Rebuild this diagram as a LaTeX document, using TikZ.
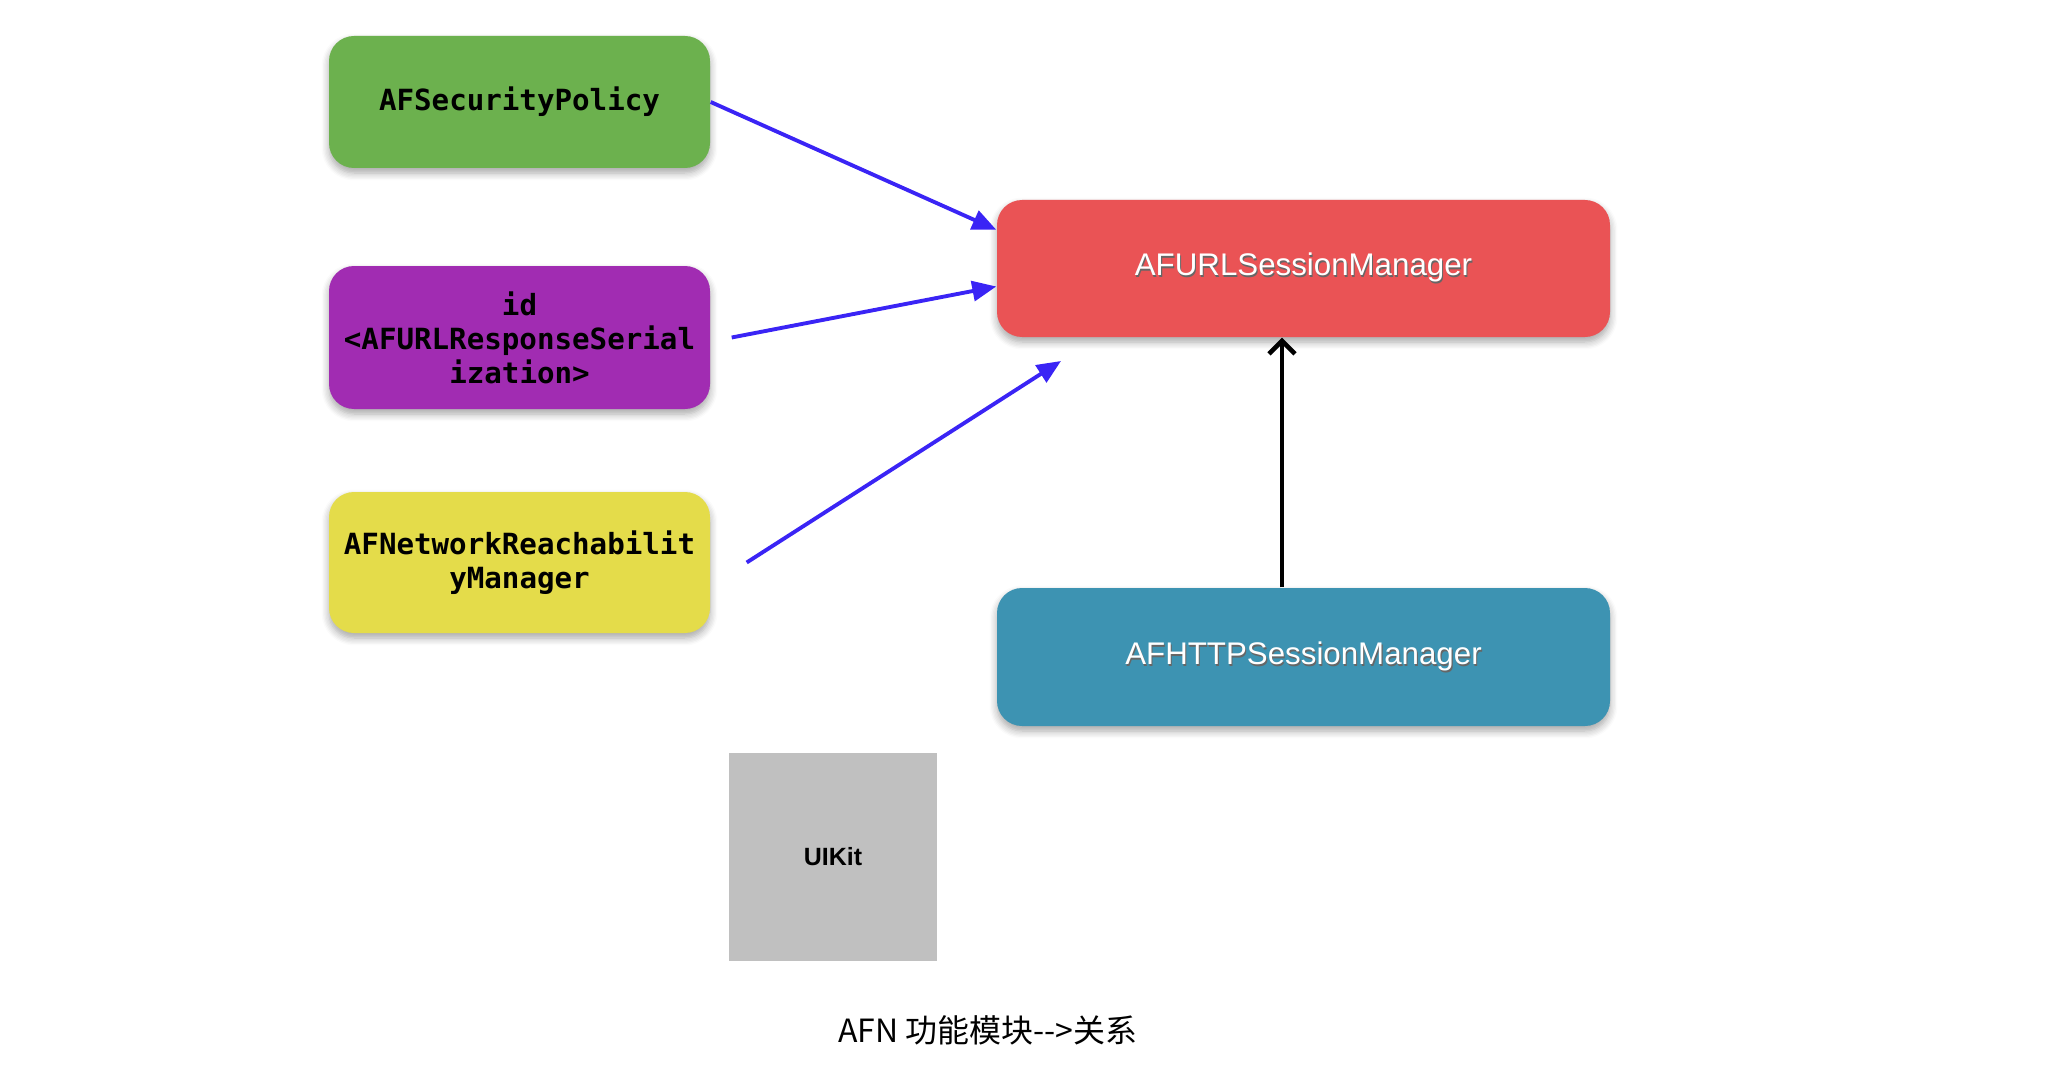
\documentclass[tikz,border=0pt]{standalone}
\usepackage{fontspec}
\usepackage{tikz}
\usetikzlibrary{arrows.meta}
\usetikzlibrary{shadows.blur}
\usetikzlibrary{calc}
\setmainfont{Liberation Sans}
\newfontfamily\codefont{DejaVu Sans Mono}
\newfontfamily\cjkfont{Noto Sans CJK SC}
\definecolor{policygreen}{RGB}{108,177,78}
\definecolor{serialpurple}{RGB}{161,44,178}
\definecolor{reachyellow}{RGB}{228,220,74}
\definecolor{sessionred}{RGB}{234,83,85}
\definecolor{httpblue}{RGB}{61,147,178}
\definecolor{kitgray}{RGB}{192,192,192}
\definecolor{linkblue}{RGB}{58,36,245}
\newcommand\shadowed[1]{\rlap{\hspace{0.3pt}\raisebox{-0.6pt}{\textcolor{black!60}{#1}}}#1}
\tikzset{module/.style={rounded corners=0.25cm,minimum width=3.81cm,
                        text badly centered,align=center,inner sep=0pt,
                        blur shadow={shadow xshift=0pt,shadow yshift=-0.05cm,
                                     shadow blur steps=6,shadow opacity=35},
                        font=\codefont\bfseries\fontsize{8.3}{9.7}\selectfont}}
\tikzset{manager/.style={module,minimum width=6.13cm,minimum height=1.37cm,
                         text=white,font=\fontsize{8.9}{10}\selectfont}}

\begin{document}
\begin{tikzpicture}
    \tikzstyle{uses}=[-{Triangle[length=0.24cm,width=0.2cm]},draw=linkblue,line width=1.1pt]
    \tikzstyle{inherits}=[-{Straight Barb[length=0.13cm,width=0.26cm]},draw=black,line width=1.3pt]
    \useasboundingbox (0,0) rectangle (20.64,-10.74);

    % modules
    \node[module,fill=policygreen,minimum height=1.32cm] (policy) at (5.195,-1.02) {AFSecurityPolicy};
    \node[module,fill=serialpurple,minimum height=1.43cm] (serial) at (5.195,-3.375)
        {id\\<AFURLResponseSerial\\ization>};
    \node[module,fill=reachyellow,minimum height=1.41cm] (reach) at (5.195,-5.625)
        {AFNetworkReachabilit\\yManager};

    \node[manager,fill=sessionred] (url) at (13.035,-2.685) {\shadowed{AFURLSessionManager}};
    \node[manager,fill=httpblue,minimum height=1.38cm] (http) at (13.035,-6.57) {\shadowed{AFHTTPSessionManager}};

    \node[fill=kitgray,minimum size=2.08cm,inner sep=0pt,font=\bfseries\fontsize{7.1}{8}\selectfont]
        (uikit) at (8.33,-8.57) {UIKit};

    % connectors
    \coordinate (reachend) at (10.61,-3.61);
    \draw[uses] (policy.east) -- ($(url.north west)!0.22!(url.south west)$);
    \draw[uses] ([xshift=0.21cm]serial.east) -- ($(url.north west)!0.63!(url.south west)$);
    \draw[uses] ([xshift=0.36cm]reach.east) -- (reachend);
    \draw[inherits] ([xshift=-0.215cm]http.north) -- ([xshift=-0.215cm]url.south);

    % Labels
    \node (caption) at (9.88,-10.30) {\cjkfont\fontsize{9.1}{10}\selectfont AFN 功能模块-{}->关系};
\end{tikzpicture}
\end{document}
